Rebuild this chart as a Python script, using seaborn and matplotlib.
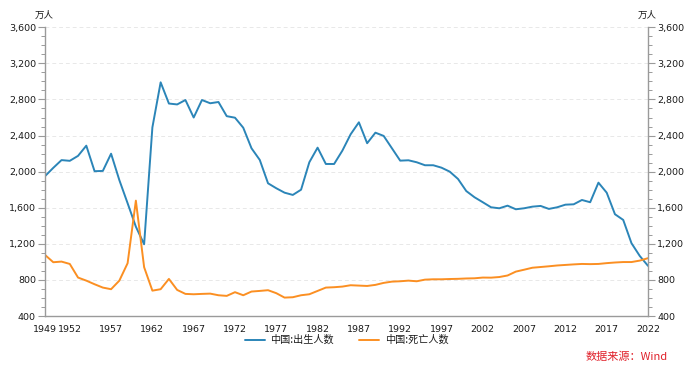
import numpy as np
import pandas as pd
import matplotlib
matplotlib.use("Agg")
import matplotlib.pyplot as plt
import matplotlib.ticker as ticker
import seaborn as sns

# ── Data (万人) ──────────────────────────────────────────────────────────────
years = list(range(1949, 2023))

births = [
    1950, 2042, 2128, 2120, 2175, 2288, 2005, 2008, 2199, 1906,   # 1949-1958
    1650, 1390, 1195, 2490, 2990, 2755, 2745, 2794, 2600, 2794,   # 1959-1968
    2758, 2772, 2615, 2598, 2487, 2259, 2130, 1871, 1816, 1767,   # 1969-1978
    1742, 1800, 2104, 2266, 2085, 2085, 2233, 2414, 2547, 2315,   # 1979-1988
    2432, 2396, 2259, 2122, 2126, 2104, 2071, 2071, 2044, 2000,   # 1989-1998
    1919, 1785, 1716, 1661, 1605, 1594, 1623, 1583, 1594, 1612,   # 1999-2008
    1620, 1587, 1605, 1634, 1638, 1686, 1661, 1878, 1767, 1528,   # 2009-2018
    1465, 1207, 1066, 956,                                        # 2019-2022
]

deaths = [
    1077, 996, 1003, 977, 826, 792, 752, 715, 697, 792,           # 1949-1958
    985, 1679, 941, 681, 697, 811, 689, 645, 641, 645,            # 1959-1968
    648, 630, 623, 664, 630, 671, 678, 686, 653, 604,             # 1969-1978
    608, 630, 641, 678, 715, 719, 726, 741, 737, 733,             # 1979-1988
    745, 767, 781, 785, 792, 785, 803, 807, 807, 810,             # 1989-1998
    812, 816, 818, 826, 825, 832, 849, 892, 913, 935,             # 1999-2008
    943, 951, 960, 966, 972, 977, 975, 977, 986, 993,             # 2009-2018
    998, 998, 1014, 1041,                                         # 2019-2022
]

series_names = ["中国:出生人数", "中国:死亡人数"]
x_major = [1949, 1952, 1957, 1962, 1967, 1972, 1977, 1982, 1987, 1992,
           1997, 2002, 2007, 2012, 2017, 2022]
y_major = list(range(400, 3601, 400))

df = pd.DataFrame({
    "year": years * 2,
    "value": births + deaths,
    "series": [series_names[0]] * len(years) + [series_names[1]] * len(years),
})

# ── Style ───────────────────────────────────────────────────────────────────
sns.set_style("white")
plt.rcParams["font.family"] = ["Noto Sans CJK SC", "DejaVu Sans"]

PALETTE = {series_names[0]: "#2b85b8", series_names[1]: "#fb8f22"}
AXIS_COL = "#9a9a9a"
TEXT_COL = "#1a1a1a"

fig = plt.figure(figsize=(6.92, 3.69), dpi=100)
ax = fig.add_axes([45 / 692, 1 - 316 / 369, (648 - 45) / 692, (316 - 27.3) / 369])

sns.lineplot(data=df, x="year", y="value", hue="series", palette=PALETTE,
             linewidth=1.4, ax=ax, legend=True)

ax.set_xlim(1949, 2022)
ax.set_ylim(400, 3600)
ax.set_xlabel("")
ax.set_ylabel("")

# ticks
ax.set_xticks(x_major)
ax.xaxis.set_minor_locator(ticker.MultipleLocator(1))
ax.set_yticks(y_major)
ax.yaxis.set_minor_locator(ticker.MultipleLocator(100))
ax.yaxis.set_major_formatter(ticker.FuncFormatter(lambda v, p: f"{int(v):,}"))
ax.yaxis.set_ticks_position("both")
ax.tick_params(axis="y", which="both", labelleft=True, labelright=True,
               direction="out", color=AXIS_COL)
ax.tick_params(axis="x", which="both", direction="out", color=AXIS_COL)
ax.tick_params(which="major", length=5, width=0.8, labelsize=6.8,
               labelcolor=TEXT_COL, pad=1.5)
ax.tick_params(which="minor", length=3, width=0.7)
for lab in ax.get_xticklabels() + ax.get_yticklabels():
    lab.set_family("DejaVu Sans")
for lab in ax.yaxis.get_ticklabels(which="major"):
    lab.set_family("DejaVu Sans")

# spines / grid
for side in ["left", "right", "bottom"]:
    ax.spines[side].set_color(AXIS_COL)
    ax.spines[side].set_linewidth(1.0)
ax.spines["top"].set_visible(False)
ax.grid(axis="y", which="major", linestyle=(0, (4, 3)), color="#e8e8e8", linewidth=0.7)
ax.set_axisbelow(True)

# unit labels
fig.text(44 / 692, 1 - 15 / 369, "万人", ha="center", va="center",
         fontsize=6.8, color=TEXT_COL)
fig.text(647.5 / 692, 1 - 15 / 369, "万人", ha="center", va="center",
         fontsize=6.8, color=TEXT_COL)

# legend
leg = ax.legend(title=None, loc="center",
                bbox_to_anchor=(0.5, (316 - 340) / (316 - 27.3)),
                ncol=2, frameon=False, fontsize=7.3, handlelength=2.0,
                handletextpad=0.5, columnspacing=2.5)
for t in leg.get_texts():
    t.set_color(TEXT_COL)

# source
fig.text(668 / 692, 1 - 356.5 / 369, "数据来源：Wind", ha="right", va="center",
         fontsize=8, color="#e0202a")

plt.savefig("out.png", dpi=100)
plt.close()
